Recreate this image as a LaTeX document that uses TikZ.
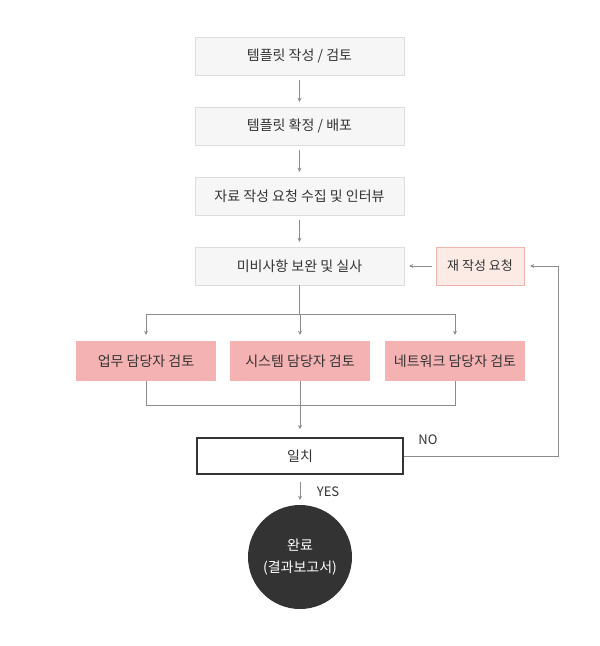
\documentclass[tikz,border=0pt]{standalone}
\usepackage{fontspec}
\setmainfont{Noto Sans CJK KR}
\usepackage{tikz}
\usetikzlibrary{arrows.meta}

\definecolor{boxfill}{HTML}{F6F6F6}
\definecolor{boxline}{HTML}{DCDCDC}
\definecolor{pinkfill}{HTML}{F4B2B2}
\definecolor{peachfill}{HTML}{FCEBE4}
\definecolor{peachline}{HTML}{F0B4AE}
\definecolor{linegray}{HTML}{8C8C8C}
\definecolor{txt}{HTML}{333333}
\definecolor{dark}{HTML}{333333}

\begin{document}
\begin{tikzpicture}[x=1pt, y=-1pt,
    every node/.style={font=\fontsize{14}{17}\selectfont, text=txt},
    stepbox/.style={draw=boxline, fill=boxfill, minimum width=209pt, minimum height=38pt},
    reviewbox/.style={fill=pinkfill, minimum width=140pt, minimum height=40pt},
    flow/.style={draw=linegray, line width=0.7pt, -{Stealth[length=4pt, width=4pt]}},
    link/.style={draw=linegray, line width=0.7pt}]
    \useasboundingbox (0, 0) rectangle (600, 646);
    \node[stepbox] (draft) at (299.5, 56) {템플릿 작성 / 검토};
    \node[stepbox] (confirm) at (299.5, 126) {템플릿 확정 / 배포};
    \node[stepbox] (collect) at (299.5, 196) {자료 작성 요청 수집 및 인터뷰};
    \node[stepbox] (revise) at (299.5, 266) {미비사항 보완 및 실사};
    \node[draw=peachline, fill=peachfill, minimum width=88pt, minimum height=38pt, font=\fontsize{13}{16}\selectfont] (rewrite) at (480, 266) {재 작성 요청};
    \node[reviewbox] (biz) at (146, 361) {업무 담당자 검토};
    \node[reviewbox] (sys) at (300, 361) {시스템 담당자 검토};
    \node[reviewbox] (net) at (455, 361) {네트워크 담당자 검토};
    \node[draw=dark, line width=2pt, minimum width=206pt, minimum height=36pt] (match) at (300, 456) {일치};
    \node[circle, fill=dark, minimum size=104pt, align=center, text=white, font=\fontsize{14}{22}\selectfont] (done) at (300, 557) {완료\\(결과보고서)};
    % flow
    \draw[flow, shorten <=5pt, shorten >=5pt] (draft) -- (confirm);
    \draw[flow, shorten <=5pt, shorten >=5pt] (confirm) -- (collect);
    \draw[flow, shorten <=5pt, shorten >=5pt] (collect) -- (revise);
    \draw[flow, shorten <=4pt, shorten >=5pt] (rewrite) -- (revise);
    \draw[link] (revise.south) -- ++(0, 29) coordinate (split);
    \draw[link] (biz.north |- split) -- (net.north |- split);
    \foreach \n in {biz, sys, net}
        \draw[flow, shorten >=6pt] (\n.north |- split) -- (\n.north);
    \draw[link] (biz.south) -- ++(0, 24) coordinate (merge) -- (net.south |- merge) -- (net.south);
    \draw[link] (sys.south) -- (sys.south |- merge);
    \draw[flow, shorten >=8pt] (sys.south |- merge) -- (match.north);
    \draw[flow, shorten <=7pt, shorten >=5pt] (match) -- (done);
    \node[font=\fontsize{13}{15}\selectfont] (yes) at (328, 492) {YES};
    \draw[flow, shorten >=6pt] (match.east) -- ++(154, 0) coordinate (back) |- (rewrite.east);
    \node[font=\fontsize{13}{15}\selectfont] (no) at (428, 440) {NO};
\end{tikzpicture}
\end{document}
